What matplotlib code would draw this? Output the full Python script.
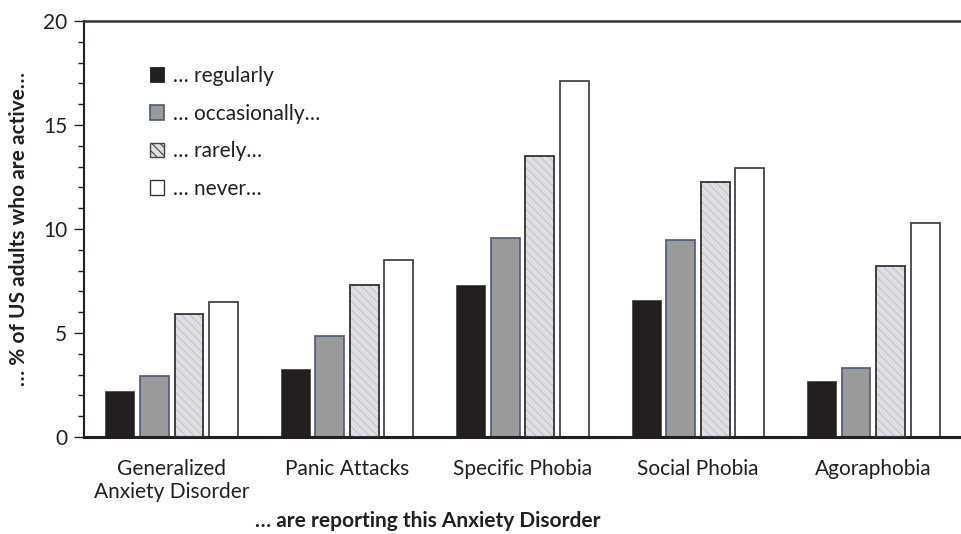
import matplotlib
matplotlib.use("Agg")
import matplotlib.pyplot as plt
import numpy as np
from matplotlib.patches import Patch
from matplotlib.ticker import MultipleLocator

plt.rcParams['font.family'] = ['Lato', 'DejaVu Sans']
plt.rcParams['hatch.linewidth'] = 0.8

categories = ["Generalized\nAnxiety Disorder", "Panic Attacks", "Specific Phobia",
              "Social Phobia", "Agoraphobia"]
series_names = ["… regularly", "… occasionally…", "… rarely…", "… never…"]
regularly = [2.23, 3.28, 7.31, 6.59, 2.69]
occasionally = [2.93, 4.86, 9.58, 9.49, 3.30]
rarely = [5.93, 7.33, 13.51, 12.27, 8.24]
never = [6.48, 8.52, 17.12, 12.93, 10.27]

dark = '#231f20'
fig = plt.figure(figsize=(9.61, 5.34), dpi=100)
ax = fig.add_axes([84/961, 97/534, 877/961, 416/534])

x = np.arange(len(categories))
step = 0.197
w = 0.165
offs = [-1.5*step, -0.5*step, 0.5*step, 1.5*step]

ax.bar(x + offs[0], regularly, w, color=dark, edgecolor='#4a4a4a', linewidth=0.6, zorder=2)
ax.bar(x + offs[1], occasionally, w, color='#9a9a9a', edgecolor='#4d5a75', linewidth=1.2, zorder=2)
ax.bar(x + offs[2], rarely, w, color='#e0e0e4', edgecolor='#c4c4c8', hatch='\\\\\\\\', linewidth=0, zorder=2)
ax.bar(x + offs[2], rarely, w, fill=False, edgecolor='#333333', linewidth=1.3, zorder=3)
ax.bar(x + offs[3], never, w, color='white', edgecolor='#444444', linewidth=1.3, zorder=2)

ax.set_xlim(-0.5, 4.5)
ax.set_ylim(0, 20)
ax.yaxis.set_major_locator(MultipleLocator(5))
ax.yaxis.set_minor_locator(MultipleLocator(1))
ax.tick_params(axis='y', which='major', direction='out', length=7, width=1, color=dark,
               labelsize=15, labelcolor='#231f20', pad=5)
ax.tick_params(axis='y', which='minor', direction='out', length=4, width=1, color=dark)
ax.set_xticks(x)
ax.set_xticklabels(categories, fontsize=15, color='#231f20', linespacing=1.15)
ax.tick_params(axis='x', length=0, pad=16)

ax.spines['right'].set_visible(False)
for s in ['left', 'bottom', 'top']:
    ax.spines[s].set_color(dark)
ax.spines['left'].set_linewidth(1.5)
ax.spines['bottom'].set_linewidth(2.2)
ax.spines['top'].set_linewidth(1.8)
ax.spines['top'].set_color('#333333')

ax.set_ylabel("… % of US adults who are active…", fontsize=15, fontweight='bold',
              color=dark, labelpad=10)
fig.text(428/961, 1 - 521/534, "… are reporting this Anxiety Disorder", fontsize=15,
         fontweight='bold', color=dark, ha='center', va='center')

handles = [
    Patch(facecolor=dark, edgecolor=dark, linewidth=0.6),
    Patch(facecolor='#9a9a9a', edgecolor='#4d5a75', linewidth=1.2),
    Patch(facecolor='#e0e0e4', edgecolor='#444444', hatch='\\\\\\\\', linewidth=1.0),
    Patch(facecolor='white', edgecolor='#333333', linewidth=1.0),
]
leg = ax.legend(handles, series_names, loc='upper left', bbox_to_anchor=(0.063, 0.917),
                frameon=False, fontsize=15, handlelength=0.7, handleheight=0.7,
                handletextpad=0.4, labelspacing=0.85, borderpad=0)
for t in leg.get_texts():
    t.set_color(dark)

fig.savefig('out.png', dpi=100)
